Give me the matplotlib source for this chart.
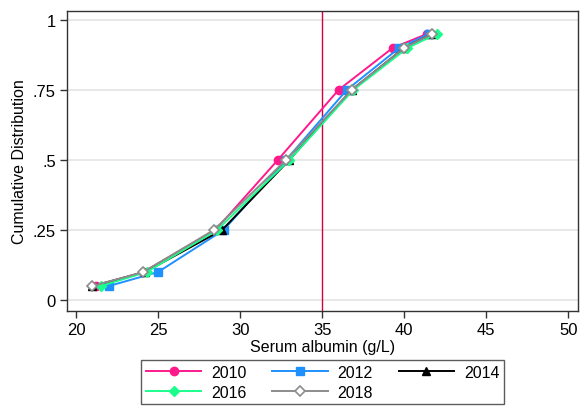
import matplotlib
matplotlib.use("Agg")
import matplotlib.pyplot as plt

plt.rcParams['font.family'] = ['Liberation Sans', 'DejaVu Sans']

# Quantiles de la distribution cumulée (p5, p10, p25, p50, p75, p90, p95)
probs = [0.05, 0.10, 0.25, 0.50, 0.75, 0.90, 0.95]
alb_2010 = [21.2, 24.1, 28.5, 32.3, 36.0, 39.3, 41.4]
alb_2012 = [22.0, 25.0, 29.0, 32.8, 36.5, 39.7, 41.5]
alb_2014 = [21.0, 24.2, 28.9, 33.0, 36.8, 40.0, 41.7]
alb_2016 = [21.5, 24.3, 28.6, 33.0, 36.9, 40.2, 42.0]
alb_2018 = [21.0, 24.1, 28.4, 32.8, 36.8, 40.0, 41.7]

years = ['2010', '2012', '2014', '2016', '2018']
x_ticks = [20, 25, 30, 35, 40, 45, 50]
y_ticks = [0, 0.25, 0.5, 0.75, 1]
y_tick_labels = ['0', '.25', '.5', '.75', '1']
seuil = 35

fig = plt.figure(figsize=(5.87, 4.10), dpi=100)
ax = fig.add_axes([0.114, 0.239, 0.871, 0.732])

styles = [
    dict(color='#ff1a8c', marker='o', ms=6, mfc='#ff1a8c'),
    dict(color='#1e90ff', marker='s', ms=6, mfc='#1e90ff'),
    dict(color='black', marker='^', ms=6, mfc='black'),
    dict(color='#1aff8c', marker='D', ms=5.5, mfc='#1aff8c'),
    dict(color='#8c8c8c', marker='D', ms=5.5, mfc='white', mew=1.2),
]
series = [alb_2010, alb_2012, alb_2014, alb_2016, alb_2018]

lines = []
for vals, lab, st in zip(series, years, styles):
    l, = ax.plot(vals, probs, lw=1.4, label=lab, **st)
    lines.append(l)

# seuil d'hypoalbuminémie
ax.axvline(seuil, color='#d6003c', lw=1.0, zorder=1)

ax.set_xlim(19.45, 50.6)
ax.set_ylim(-0.039, 1.032)
ax.set_xticks(x_ticks)
ax.set_yticks(y_ticks)
ax.set_yticklabels(y_tick_labels)
ax.tick_params(labelsize=12, length=5, width=1, color='#333333', pad=3)
ax.yaxis.grid(True, color='#e6e6e6', lw=1.3)
ax.set_axisbelow(True)
for sp in ax.spines.values():
    sp.set_color('#333333')
    sp.set_linewidth(1.0)

ax.set_xlabel("Serum albumin (g/L)", fontsize=11.5, labelpad=1)
ax.set_ylabel("Cumulative Distribution", fontsize=11.5, labelpad=4)

# légende remplie ligne par ligne (3 colonnes)
order = [0, 3, 1, 4, 2]
leg = ax.legend([lines[i] for i in order], [years[i] for i in order],
                loc='upper center', bbox_to_anchor=(0.5, -0.163), ncol=3,
                fontsize=11.5, frameon=True, fancybox=False, edgecolor='#333333',
                handlelength=3.5, columnspacing=1.6, handletextpad=0.6,
                labelspacing=0.3, borderpad=0.3, borderaxespad=0)
leg.get_frame().set_linewidth(1.0)

fig.savefig("out.png", dpi=100)
